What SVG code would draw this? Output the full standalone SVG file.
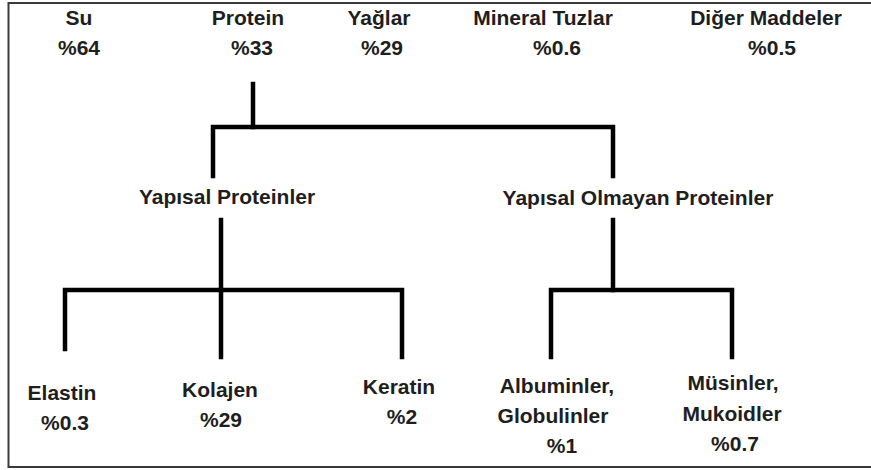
<svg xmlns="http://www.w3.org/2000/svg" width="871" height="470" viewBox="0 0 871 470">
<style>
text{font-family:"Liberation Sans",Arial,sans-serif;font-weight:bold;font-size:21px;fill:#1e1e1e;text-anchor:middle}
.ln{stroke:#000;stroke-width:4.5;fill:none;stroke-linecap:square;stroke-linejoin:miter}
.frame{stroke:#3a3a3a;stroke-width:2;fill:none}
</style>
<rect width="871" height="470" fill="#fff"/>
<path class="frame" d="M875 3 H8.5 V467 H875"/>
<g id="connectors">
<path class="ln" d="M253 84 V127"/>
<path class="ln" d="M213 176 V127 H613 V176"/>
<path class="ln" d="M221 220 V290"/>
<path class="ln" d="M65 349 V290 H402 V357"/>
<path class="ln" d="M221 290 V357"/>
<path class="ln" d="M613 220 V290"/>
<path class="ln" d="M551 357 V290 H732 V357"/>
</g>
<g id="su"><text x="79" y="25">Su</text><text x="79" y="55">%64</text></g>
<g id="protein"><text x="248" y="25">Protein</text><text x="252" y="55">%33</text></g>
<g id="yaglar"><text x="379" y="25">Yağlar</text><text x="382" y="55">%29</text></g>
<g id="mineral"><text x="543" y="25">Mineral Tuzlar</text><text x="557" y="55">%0.6</text></g>
<g id="diger"><text x="766" y="25">Diğer Maddeler</text><text x="772" y="55">%0.5</text></g>
<g id="yapisal"><text x="227" y="204">Yapısal Proteinler</text></g>
<g id="yapisal-olmayan"><text x="638" y="205">Yapısal Olmayan Proteinler</text></g>
<g id="elastin"><text x="62" y="400">Elastin</text><text x="65" y="430">%0.3</text></g>
<g id="kolajen"><text x="220" y="397">Kolajen</text><text x="221" y="427">%29</text></g>
<g id="keratin"><text x="399" y="394">Keratin</text><text x="402" y="424">%2</text></g>
<g id="albuminler"><text x="557" y="393">Albuminler,</text><text x="553" y="423">Globulinler</text><text x="562" y="453">%1</text></g>
<g id="musinler"><text x="733" y="390">Müsinler,</text><text x="732" y="421">Mukoidler</text><text x="735" y="451">%0.7</text></g>
</svg>
